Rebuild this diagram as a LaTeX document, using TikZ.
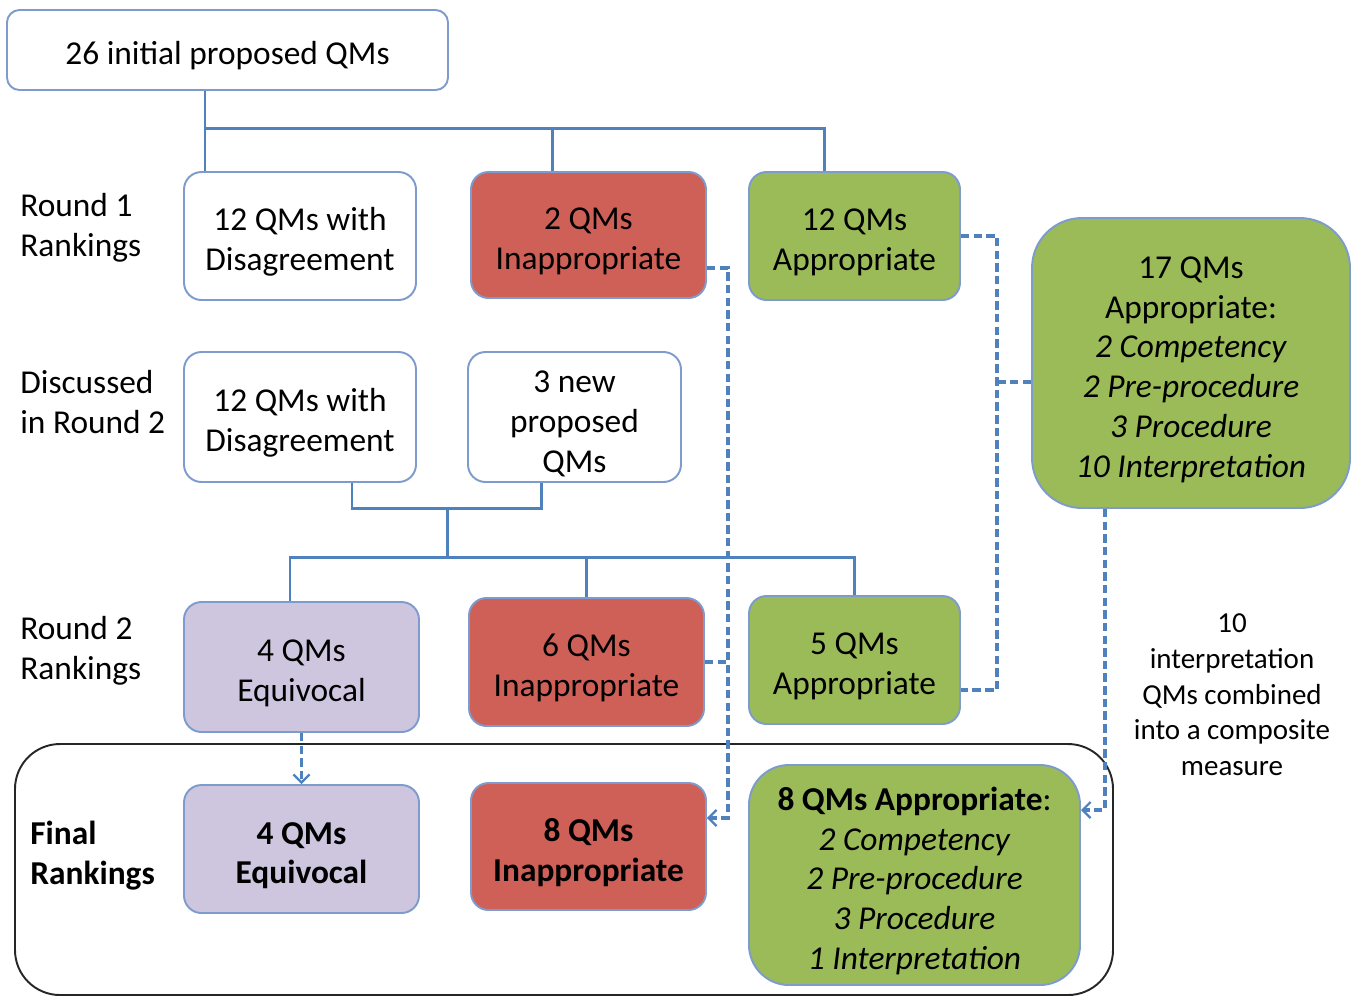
\documentclass[tikz,border=0pt]{standalone}
\usepackage{fontspec}
\setmainfont{Carlito}
\usetikzlibrary{arrows.meta, positioning, calc}

\definecolor{linkblue}{RGB}{79,129,189}
\definecolor{edgeblue}{RGB}{125,155,205}
\definecolor{apred}{RGB}{206,96,88}
\definecolor{apgreen}{RGB}{155,187,89}
\definecolor{eqlilac}{RGB}{206,198,222}

\begin{document}
\begin{tikzpicture}[
  box/.style = {draw=edgeblue, line width=1.1pt, fill=white, rounded corners=0.35cm, align=flush center,
                text width=4.2cm, minimum width=4.7cm, minimum height=2.56cm, inner sep=2pt,
                font=\fontsize{19}{22.7}\selectfont, execute at begin node={\rule{0pt}{20pt}}},
  inapp/.style = {box, fill=apred},
  app/.style = {box, fill=apgreen},
  equiv/.style = {box, fill=eqlilac},
  rowlabel/.style = {anchor=west, align=left, inner sep=0pt, font=\fontsize{19}{22.7}\selectfont},
  note/.style = {align=center, inner sep=0pt, font=\fontsize{16.5}{20.3}\selectfont},
  link/.style = {draw=linkblue, line width=1.7pt},
  dlink/.style = {draw=linkblue, line width=1.8pt, dash pattern=on 4.8pt off 2.4pt},
  tip/.style = {-{Straight Barb[length=1.6mm, width=3.2mm, line width=1.3pt]}},
  finalframe/.style = {draw=black!85, line width=1.1pt, rounded corners=0.9cm,
                       minimum width=21.96cm, minimum height=5.02cm}
]
  \useasboundingbox (0,0) rectangle (27.14,-19.96);

  % Frame of the final rankings
  \node[finalframe] (final) at (11.28,-17.39) {};

  % Nodes
  \node[box, rounded corners=0.25cm, text width=8.2cm, minimum width=8.82cm, minimum height=1.6cm] (init) at (4.55,-1.0) {26 initial proposed QMs};

  \node[rowlabel] (lblr1) at (0.4,-4.56) {Round 1\\Rankings};
  \node[box, minimum width=4.64cm] (r1dis) at (6.0,-4.72) {12 QMs with\\Disagreement};
  \node[inapp, minimum height=2.52cm] (r1inapp) at (11.77,-4.70) {2 QMs\\Inappropriate};
  \node[app, minimum width=4.22cm, text width=3.9cm] (r1app) at (17.09,-4.72) {12 QMs\\Appropriate};
  \node[app, rounded corners=1cm, text width=5.9cm, minimum width=6.36cm, minimum height=5.8cm] (app17) at (23.82,-7.26)
    {17 QMs\\Appropriate:\\\textit{2 Competency}\\\textit{2 Pre-procedure}\\\textit{3 Procedure}\\\textit{10 Interpretation}};

  \node[rowlabel] (lbldisc) at (0.4,-8.04) {Discussed\\in Round 2};
  \node[box, minimum width=4.64cm, minimum height=2.6cm] (r2dis) at (6.0,-8.34) {12 QMs with\\Disagreement};
  \node[box, text width=3.9cm, minimum width=4.26cm, minimum height=2.6cm] (newqm) at (11.49,-8.34) {3 new\\proposed\\QMs};

  \node[rowlabel] (lblr2) at (0.4,-13.02) {Round 2\\Rankings};
  \node[equiv, minimum height=2.6cm] (equiv2) at (6.03,-13.34) {4 QMs\\Equivocal};
  \node[inapp] (inapp2) at (11.73,-13.24) {6 QMs\\Inappropriate};
  \node[app, minimum width=4.22cm, text width=3.9cm] (app2) at (17.09,-13.2) {5 QMs\\Appropriate};
  \node[note] (combined) at (24.64,-13.9) {10\\interpretation\\QMs combined\\into a composite\\measure};

  \node[rowlabel, font=\fontsize{19}{22.7}\selectfont\bfseries] (lblfin) at (0.6,-17.12) {Final\\Rankings};
  \node[equiv, font=\fontsize{19}{22.7}\selectfont\bfseries] (equivF) at (6.03,-16.98) {4 QMs\\Equivocal};
  \node[inapp, minimum height=2.54cm, font=\fontsize{19}{22.7}\selectfont\bfseries] (inappF) at (11.77,-16.93) {8 QMs\\Inappropriate};
  \node[app, rounded corners=0.8cm, text width=6.2cm, minimum width=6.62cm, minimum height=4.4cm] (appF) at (18.29,-17.5)
    {\textbf{8 QMs Appropriate}:\\\textit{2 Competency}\\\textit{2 Pre-procedure}\\\textit{3 Procedure}\\\textit{1 Interpretation}};

  % Round 1 split
  \coordinate (fork1) at ([xshift=-0.45cm, yshift=-0.76cm]init.south);
  \draw[link] ([xshift=-0.45cm]init.south) -- (fork1) -- (fork1 |- r1dis.north);
  \draw[link] (fork1) -| ([xshift=-0.73cm]r1inapp.north);
  \draw[link] (fork1) -| ([xshift=-0.61cm]r1app.north);

  % Round 2 merge and split
  \coordinate (merge) at (8.94,-10.16);
  \coordinate (fork2) at (8.94,-11.14);
  \draw[link] ([xshift=1.04cm]r2dis.south) |- (merge) -| ([xshift=-0.67cm]newqm.south);
  \draw[link] (merge) -- (fork2) -| ([xshift=-0.23cm]equiv2.north);
  \draw[link] (fork2) -| (inapp2.north);
  \draw[link] (fork2) -| (app2.north);

  % Dashed paths to the final rankings
  \draw[dlink, tip] ([yshift=-0.66cm]r1inapp.east) -- ++(0.42,0) |- ([yshift=0.57cm]inappF.east);
  \draw[dlink] (inapp2.east) -- ++(0.46,0);
  \draw[dlink] (r1app.east) -- ++(0.72,0) |- ([yshift=-0.6cm]app2.east);
  \draw[dlink] ([yshift=-0.38cm]app17.west) -- ++(-0.72,0);
  \draw[dlink, tip] ([xshift=-1.72cm]app17.south) |- ([yshift=1.3cm]appF.east);
  \draw[dlink, tip] (equiv2.south) -- (equivF.north);

\end{tikzpicture}
\end{document}
